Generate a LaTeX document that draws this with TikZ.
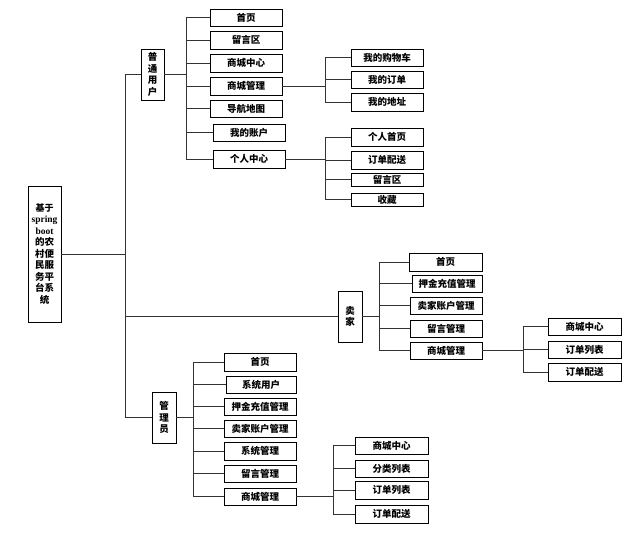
\documentclass[tikz,border=0pt]{standalone}
\usepackage{fontspec}
\setmainfont{Liberation Serif}
\newfontfamily\cjk{Noto Sans CJK SC}
\begin{document}
\begin{tikzpicture}[x=1pt,y=-1pt,
  every node/.style={inner sep=0pt,outer sep=0pt},
  box/.style={draw=black,line width=0.9pt,font=\cjk\bfseries\fontsize{9.5}{11.5}\selectfont,align=center},
  ln/.style={line width=0.8pt,draw=black!80}]
\useasboundingbox[fill=white] (0,0) rectangle (643,540);
\newcommand\mybox[6]{\node[box,minimum width={#4-#2},minimum height={#5-#3}] (#1) at ({(#2+#4)/2},{(#3+#5)/2}) {#6};}
% root
\mybox{root}{28}{186}{61}{322}{\fontsize{9}{12.5}\selectfont 基于\\{\rmfamily\bfseries spring}\\{\rmfamily\bfseries boot}\\的农\\村便\\民服\\务平\\台系\\统}
% level 1
\mybox{pu}{141}{49}{164}{100}{普\\通\\用\\户}
\mybox{seller}{338}{291}{362}{342}{卖\\家}
\mybox{admin}{152}{392}{176}{443}{管\\理\\员}
% user children
\mybox{u1}{210}{9}{282}{26}{首页}
\mybox{u2}{210}{31}{282}{49}{留言区}
\mybox{u3}{210}{54}{282}{72}{商城中心}
\mybox{u4}{210}{77}{282}{95}{商城管理}
\mybox{u5}{210}{100}{282}{117}{导航地图}
\mybox{u6}{213}{124}{285}{141}{我的账户}
\mybox{u7}{213}{150}{285}{168}{个人中心}
\mybox{m1}{351}{49}{423}{66}{我的购物车}
\mybox{m2}{351}{71}{423}{88}{我的订单}
\mybox{m3}{351}{93}{423}{111}{我的地址}
\mybox{p1}{351}{128}{423}{146}{个人首页}
\mybox{p2}{351}{151}{423}{169}{订单配送}
\mybox{p3}{351}{173}{423}{186}{留言区}
\mybox{p4}{351}{193}{423}{206}{收藏}
% seller children
\mybox{s1}{409}{253}{482}{271}{首页}
\mybox{s2}{412}{275}{482}{292}{押金充值管理}
\mybox{s3}{410}{297}{482}{314}{卖家账户管理}
\mybox{s4}{410}{320}{482}{337}{留言管理}
\mybox{s5}{410}{342}{482}{359}{商城管理}
\mybox{q1}{548}{318}{621}{335}{商城中心}
\mybox{q2}{548}{341}{621}{358}{订单列表}
\mybox{q3}{548}{363}{621}{381}{订单配送}
% admin children
\mybox{a1}{224}{353}{296}{371}{首页}
\mybox{a2}{226}{376}{296}{393}{系统用户}
\mybox{a3}{224}{398}{296}{415}{押金充值管理}
\mybox{a4}{224}{420}{296}{437}{卖家账户管理}
\mybox{a5}{224}{442}{296}{460}{系统管理}
\mybox{a6}{224}{465}{296}{482}{留言管理}
\mybox{a7}{224}{488}{296}{505}{商城管理}
\mybox{r1}{355}{437}{428}{454}{商城中心}
\mybox{r2}{355}{460}{428}{477}{分类列表}
\mybox{r3}{355}{481}{428}{499}{订单列表}
\mybox{r4}{355}{505}{428}{523}{订单配送}
% bus coordinates
\coordinate (T) at (125,0);
\coordinate (BU) at (186,0);
\coordinate (BM) at (325,0);
\coordinate (BS) at (379,0);
\coordinate (BQ) at (523,0);
\coordinate (BA) at (193,0);
\coordinate (BR) at (333,0);
% trunk
\draw[ln] (root.east) -- (root.east -| T);
\draw[ln] (pu.west -| T) -- (admin.west -| T);
\foreach \n in {pu,seller,admin} \draw[ln] (\n.west -| T) -- (\n.west);
% user
\draw[ln] (pu.east) -- (pu.east -| BU);
\draw[ln] (u1.west -| BU) -- (u7.west -| BU);
\foreach \n in {u1,u2,u3,u4,u5,u6,u7} \draw[ln] (\n.west -| BU) -- (\n.west);
\draw[ln] (u4.east) -- (u4.east -| BM);
\draw[ln] (m1.west -| BM) -- (m3.west -| BM);
\foreach \n in {m1,m2,m3} \draw[ln] (\n.west -| BM) -- (\n.west);
\draw[ln] (u7.east) -- (u7.east -| BM);
\draw[ln] (p1.west -| BM) -- (p4.west -| BM);
\foreach \n in {p1,p2,p3,p4} \draw[ln] (\n.west -| BM) -- (\n.west);
% seller
\draw[ln] (seller.east) -- (seller.east -| BS);
\draw[ln] (s1.west -| BS) -- (s5.west -| BS);
\foreach \n in {s1,s2,s3,s4,s5} \draw[ln] (\n.west -| BS) -- (\n.west);
\draw[ln] (s5.east) -- (s5.east -| BQ);
\draw[ln] (q1.west -| BQ) -- (q3.west -| BQ);
\foreach \n in {q1,q2,q3} \draw[ln] (\n.west -| BQ) -- (\n.west);
% admin
\draw[ln] (admin.east) -- (admin.east -| BA);
\draw[ln] (a1.west -| BA) -- (a7.west -| BA);
\foreach \n in {a1,a2,a3,a4,a5,a6,a7} \draw[ln] (\n.west -| BA) -- (\n.west);
\draw[ln] (a7.east) -- (a7.east -| BR);
\draw[ln] (r1.west -| BR) -- (r4.west -| BR);
\foreach \n in {r1,r2,r3,r4} \draw[ln] (\n.west -| BR) -- (\n.west);
\end{tikzpicture}
\end{document}
